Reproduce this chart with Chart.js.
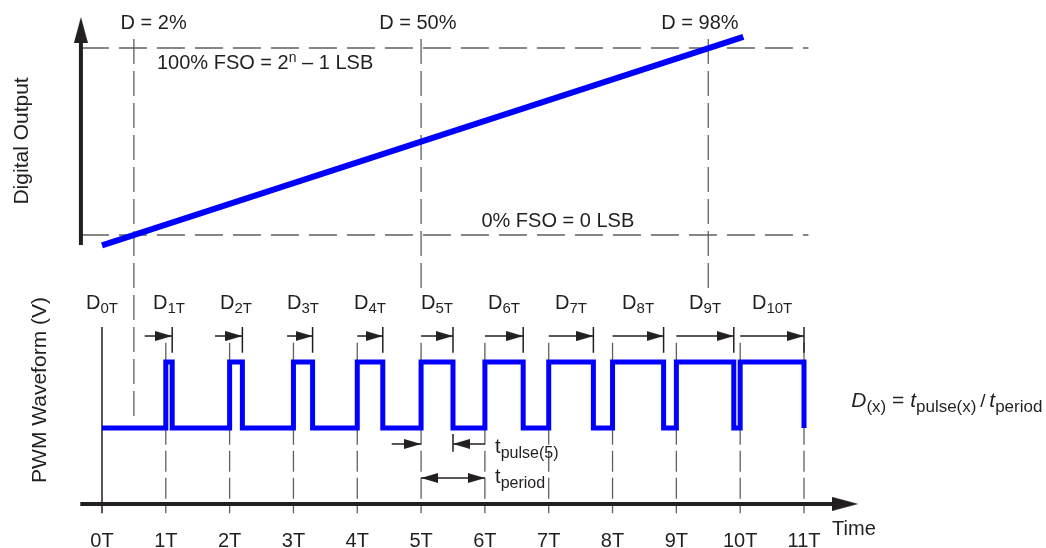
<!DOCTYPE html>
<html>
<head>
<meta charset="utf-8">
<title>PWM duty cycle and digital output</title>
<script src="https://cdn.jsdelivr.net/npm/chart.js@4.4.1/dist/chart.umd.min.js"></script>
<style>
  html, body { margin: 0; padding: 0; background: #fff; overflow: hidden; }
  #wrap { position: relative; width: 1046px; height: 548px; }
</style>
</head>
<body>
<div id="wrap"><canvas id="pwmChart"></canvas></div>
<script>
// time axis: one tick per PWM period
const periodLabels = ['0T', '1T', '2T', '3T', '4T', '5T', '6T', '7T', '8T', '9T', '10T', '11T'];
// duty cycle of the pulse that starts at each period, D0T .. D10T
const dutyNames = ['0T', '1T', '2T', '3T', '4T', '5T', '6T', '7T', '8T', '9T', '10T'];
const dutyCycles = [0, 0.1, 0.2, 0.3, 0.4, 0.5, 0.6, 0.7, 0.8, 0.9, 1.0];

// upper plot: digital output (% of full scale) against time
const markerTimes = [0.5, 5, 9.5];
const markerLabels = ['D = 2%', 'D = 50%', 'D = 98%'];
const fsoLevels = [0, 100];
const outputTimes = [0, 10.05];
const outputCodes = [-5.6, 106];

// layout bits (in axis units)
const markerLabelX = [0.81, 4.95, 9.37];
const markerDrop = [-97.9, -28.3, -28.3];
const dArrowStart = [0.67, 1.77, 2.9, 4, 5, 6, 7, 8, 9, 10];

const INK = '#231f20';
const GRID = '#5f5f5f';
const BLUE = '#0000ff';
const FONT = '"Liberation Sans", Arial, sans-serif';

function headSprite(len, wid) {
  const c = document.createElement('canvas');
  c.width = len * 2;
  c.height = wid;
  const g = c.getContext('2d');
  g.fillStyle = INK;
  g.beginPath();
  g.moveTo(0, 0);
  g.lineTo(len, wid / 2);
  g.lineTo(0, wid);
  g.closePath();
  g.fill();
  return c;
}
const bigHead = headSprite(26, 14);
const smallHead = headSprite(17, 10);

const datasets = [];
function seg(pts, axis, opts) {
  datasets.push(Object.assign({
    data: pts.map(p => ({ x: p[0], y: p[1] })),
    yAxisID: axis,
    showLine: true,
    pointRadius: 0,
    borderColor: INK,
    borderWidth: 1.5,
    order: 3
  }, opts));
}
function heads(pts, axis, sprite) {
  datasets.push({
    data: pts.map(p => ({ x: p[0], y: p[1], r: p[2] })),
    yAxisID: axis,
    showLine: false,
    pointStyle: sprite,
    pointRadius: 1,
    pointRotation: c => (c.raw ? c.raw.r : 0),
    order: 0
  });
}

// ---- upper plot ----
const dashH = { borderColor: GRID, borderWidth: 1.3, borderDash: [28, 10], order: 6 };
const dashV = { borderColor: GRID, borderWidth: 1.3, borderDash: [25, 7], order: 6 };
fsoLevels.forEach(v => seg([[-0.33, v], [11.07, v]], 'yd', dashH));
markerTimes.forEach((t, i) => seg([[t, 104.8], [t, markerDrop[i]]], 'yd', dashV));
seg(outputTimes.map((t, i) => [t, outputCodes[i]]), 'yd', { borderColor: BLUE, borderWidth: 6, order: 1 });
seg([[-0.33, -5.35], [-0.33, 104]], 'yd', { borderWidth: 4, order: 2 });
heads([[-0.33, 116.6, -90]], 'yd', bigHead);

// ---- PWM plot ----
const dashP = { borderColor: GRID, borderWidth: 1.3, borderDash: [21, 6], order: 6 };
for (let n = 1; n < periodLabels.length; n++) seg([[n, 1.29], [n, -1.29]], 'yp', dashP);
seg([[0, 1.53], [0, -1.29]], 'yp', { borderWidth: 1.5 });
seg([[-0.34, -1.15], [11.5, -1.15]], 'yp', { borderWidth: 4, order: 2 });
heads([[11.85, -1.15, 0]], 'yp', bigHead);

const wave = [[0, 0]];
for (let n = 1; n < dutyCycles.length; n++) {
  const end = n + dutyCycles[n];
  wave.push([n, 0], [n, 1], [end, 1], [end, 0]);
}
seg(wave, 'yp', { borderColor: BLUE, borderWidth: 5, borderJoinStyle: 'miter', order: 1 });

const dHeads = [];
for (let n = 1; n < dutyCycles.length; n++) {
  const end = n + dutyCycles[n];
  seg([[dArrowStart[n - 1], 1.394], [end, 1.394]], 'yp', {});
  seg([[end, 1.53], [end, 1.14]], 'yp', {});
  dHeads.push([end, 1.394, 0]);
}
heads(dHeads, 'yp', smallHead);

// t_pulse(5) and t_period markers
const p0 = 5, p1 = 5 + dutyCycles[5], p2 = 6;
seg([[4.54, -0.242], [p0, -0.242]], 'yp', {});
seg([[p2, -0.242], [p1, -0.242]], 'yp', {});
seg([[p1, -0.09], [p1, -0.36]], 'yp', {});
seg([[p0, -0.758], [p2, -0.758]], 'yp', {});
heads([[p0, -0.242, 0], [p1, -0.242, 180], [p0, -0.758, 180], [p2, -0.758, 0]], 'yp', smallHead);

function rich(ctx, parts, x, y, align) {
  const fontOf = p => (p[3] ? 'italic ' : '') + p[1] + 'px ' + FONT;
  let w = 0;
  parts.forEach(p => { ctx.font = fontOf(p); w += ctx.measureText(p[0]).width; });
  let cx = align === 'center' ? x - w / 2 : align === 'right' ? x - w : x;
  ctx.textAlign = 'left';
  parts.forEach(p => {
    ctx.font = fontOf(p);
    ctx.fillText(p[0], cx, y + (p[2] || 0));
    cx += ctx.measureText(p[0]).width;
  });
}

const diagramText = {
  id: 'diagramText',
  afterDatasetsDraw(chart) {
    const { ctx } = chart;
    const { x, yd, yp } = chart.scales;
    ctx.save();
    ctx.fillStyle = INK;
    ctx.textBaseline = 'alphabetic';

    markerLabels.forEach((s, i) =>
      rich(ctx, [[s, 20]], x.getPixelForValue(markerLabelX[i]), yd.getPixelForValue(110.2), 'center'));
    rich(ctx, [['100% FSO = 2', 20], ['n', 14, -7], [' \u2013 1 LSB', 20]],
      x.getPixelForValue(0.862), yd.getPixelForValue(88.8), 'left');
    rich(ctx, [['0% FSO = 0 LSB', 20]], x.getPixelForValue(8.34), yd.getPixelForValue(4.3), 'right');

    dutyNames.forEach((s, n) =>
      rich(ctx, [['D', 20], [s, 15, 4]], x.getPixelForValue(n + dutyCycles[n] / 2), yp.getPixelForValue(1.803), 'center'));
    periodLabels.forEach((s, n) =>
      rich(ctx, [[s, 20]], x.getPixelForValue(n), yp.getPixelForValue(-1.803), 'center'));
    rich(ctx, [['Time', 20]], x.getPixelForValue(11.44), yp.getPixelForValue(-1.62), 'left');
    rich(ctx, [['t', 20], ['pulse(5)', 16, 5]], x.getPixelForValue(6.16), yp.getPixelForValue(-0.379), 'left');
    rich(ctx, [['t', 20], ['period', 16, 5]], x.getPixelForValue(6.16), yp.getPixelForValue(-0.833), 'left');
    rich(ctx, [['D', 21, 0, true], ['(x)', 17, 5], [' = ', 21], ['t', 21, 0, true], ['pulse(x)', 17, 5],
      ['\u2009/\u2009', 19], ['t', 21, 0, true], ['period', 17, 5]],
      x.getPixelForValue(11.74), yp.getPixelForValue(0.318), 'left');

    const vtitle = (s, px, py) => {
      ctx.save();
      ctx.translate(px, py);
      ctx.rotate(-Math.PI / 2);
      ctx.font = '21px ' + FONT;
      ctx.textAlign = 'center';
      ctx.textBaseline = 'middle';
      ctx.fillText(s, 0, 0);
      ctx.restore();
    };
    vtitle('Digital Output', x.getPixelForValue(-1.254), yd.getPixelForValue(50.3));
    vtitle('PWM Waveform (V)', x.getPixelForValue(-0.971), yp.getPixelForValue(0.576));
    ctx.restore();
  }
};

const hidden = { type: 'linear', display: false, bounds: 'data', grace: 0 };
new Chart(document.getElementById('pwmChart'), {
  type: 'scatter',
  data: { datasets: datasets },
  options: {
    responsive: true,
    maintainAspectRatio: false,
    animation: false,
    events: [],
    layout: { padding: 0, autoPadding: false },
    plugins: { legend: { display: false }, tooltip: { enabled: false } },
    scales: {
      x: Object.assign({ min: -1.598, max: 14.792 }, hidden),
      yd: Object.assign({ position: 'left', min: -167.4, max: 125.67 }, hidden),
      yp: Object.assign({ position: 'right', min: -1.818, max: 6.485 }, hidden)
    }
  },
  plugins: [diagramText]
});
</script>
</body>
</html>
